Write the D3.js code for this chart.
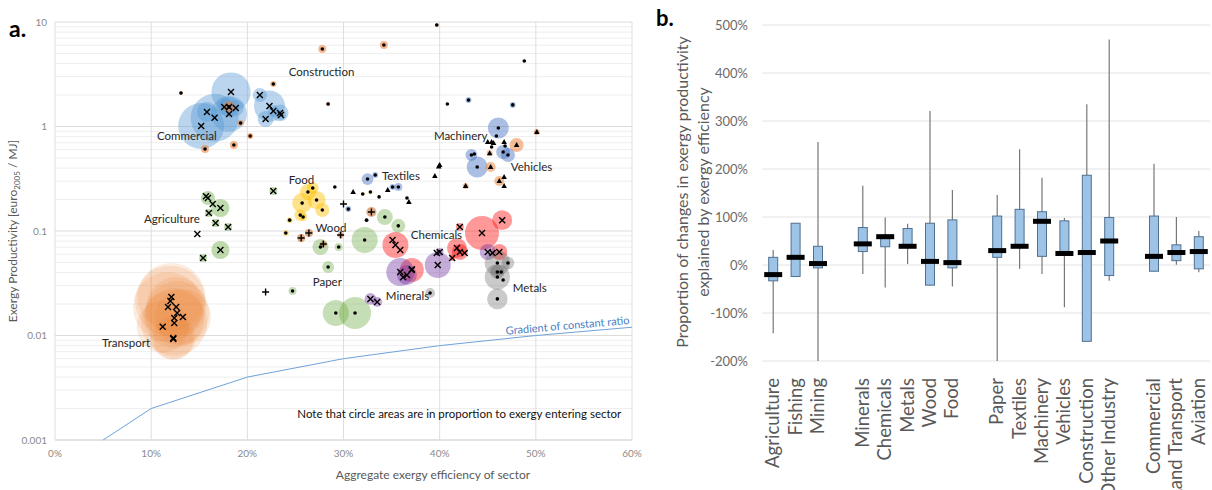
<!DOCTYPE html>
<html>
<head>
<meta charset="utf-8">
<style>
  body { margin: 0; background: #fff; }
  text { font-family: Lato, "Open Sans", sans-serif; }
</style>
</head>
<body>
<svg id="chart" width="1212" height="490"></svg>

<script src="https://cdn.jsdelivr.net/npm/d3@7"></script>
<script>
// ---------- panel a: [aggregate exergy efficiency %, exergy productivity, exergy entering sector]
const transport = [
  [12.1, 0.0234, 722], [12.0, 0.0214, 780], [11.75, 0.0187, 765], [12.6, 0.0187, 562],
  [12.7, 0.0164, 640], [13.3, 0.0150, 490], [12.4, 0.0147, 562], [12.4, 0.0132, 680],
  [11.2, 0.0121, 422], [12.3, 0.00946, 302], [12.3, 0.00926, 250]
];
const commercial = [
  [15.2, 1.01, 330], [16.6, 1.21, 360], [18.3, 2.14, 240], [18.1, 1.32, 200], [15.8, 1.38, 62],
  [17.6, 1.54, 40], [18.8, 1.50, 40], [18.1, 1.54, 62], [21.3, 2.00, 31], [22.3, 1.57, 150],
  [22.7, 1.41, 22], [21.9, 1.18, 40], [23.4, 1.35, 45], [23.5, 1.29, 16]
];
const construction = [
  [13.1, 2.09, 2.5], [22.7, 2.55, 5.6], [19.3, 1.08, 5.6], [20.3, 0.811, 5.6], [15.6, 0.609, 10],
  [18.6, 0.665, 10], [18.1, 1.54, 22], [27.8, 5.51, 10], [34.2, 6.02, 10], [39.7, 9.36, 2.5],
  [28.4, 1.64, 2.5]
];
const agriculture = [
  [15.9, 0.207, 31], [17.2, 0.166, 51], [16.0, 0.149, 10], [16.7, 0.119, 10], [18.0, 0.109, 10],
  [14.8, 0.0936, 0], [17.2, 0.0658, 51], [15.4, 0.0551, 10], [22.7, 0.241, 10],
  [15.7, 0.215, 0], [16.4, 0.181, 0]
];
const food = [
  [25.7, 0.185, 62], [27.2, 0.198, 51], [26.3, 0.236, 40], [27.8, 0.159, 31], [25.5, 0.142, 22],
  [24.4, 0.127, 5.6], [24.0, 0.0957, 5.6], [25.8, 0.136, 10], [26.8, 0.258, 22],
  [32.0, 0.226, 2.5], [32.8, 0.236, 2.5]
];
const wood = [
  [25.6, 0.0857, 10], [26.4, 0.0957, 10], [29.7, 0.0916, 5.6], [27.9, 0.0751, 5.6], [32.9, 0.152, 16]
];
const paper = [
  [27.6, 0.0703, 40], [29.5, 0.0703, 10], [28.4, 0.0452, 22], [32.2, 0.0820, 106], [34.3, 0.136, 40],
  [35.7, 0.112, 31], [29.2, 0.0164, 106], [31.2, 0.0164, 160], [24.7, 0.0267, 10]
];
const textiles = [
  [32.5, 0.314, 22], [33.3, 0.343, 5.6], [35.1, 0.264, 5.6], [35.7, 0.264, 10], [30.5, 0.162, 5.6],
  [32.4, 0.127, 2.5]
];
const machinery = [
  [46.1, 0.967, 69], [45.9, 0.811, 0], [46.6, 0.570, 31], [47.1, 0.534, 31], [43.3, 0.534, 22],
  [43.9, 0.410, 69], [43.6, 0.545, 0], [45.4, 0.637, 0], [46.8, 0.650, 0], [43.0, 1.79, 5.6],
  [47.6, 1.61, 5.6]
];
const vehicles = [
  [48.0, 0.665, 31], [50.1, 0.886, 5.6], [45.3, 0.410, 16], [46.2, 0.301, 16], [42.7, 0.270, 5.6],
  [45.2, 0.555, 5.6], [45.0, 0.711, 0], [45.4, 0.711, 0], [45.6, 0.695, 0], [46.7, 0.711, 0],
  [46.7, 0.329, 0], [46.7, 0.270, 0]
];
const chemicals = [
  [44.4, 0.0957, 181], [46.5, 0.127, 62], [42.1, 0.109, 10], [35.4, 0.0735, 106], [35.1, 0.0820, 0],
  [35.9, 0.0658, 0], [41.8, 0.0688, 62], [42.1, 0.0630, 40], [41.3, 0.0551, 5.6], [37.1, 0.0423, 90],
  [46.2, 0.0630, 40], [42.6, 0.0616, 0]
];
const minerals = [
  [35.9, 0.0405, 122], [36.6, 0.0379, 62], [39.8, 0.0473, 106], [40.0, 0.0630, 10], [39.7, 0.0616, 0],
  [32.8, 0.0224, 22], [33.5, 0.0209, 16], [45.0, 0.0630, 40], [45.5, 0.0616, 0], [36.2, 0.0360, 0],
  [37.1, 0.0430, 0]
];
const metals = [
  [46.0, 0.0494, 100], [47.1, 0.0494, 25], [46.0, 0.0363, 100], [46.0, 0.0405, 31], [46.0, 0.0224, 66],
  [39.0, 0.0255, 16], [46.4, 0.0405, 0], [46.6, 0.0340, 0]
];
const otherDots = [[48.8, 4.24], [40.8, 1.64], [29.1, 0.264], [33.7, 0.212], [36.6, 0.207]];
const otherTriangles = [[31.0, 0.236], [36.8, 0.189], [34.6, 0.247], [40.0, 0.428], [39.5, 0.336], [39.9, 0.415]];
const otherPlus = [[21.9, 0.0261], [30.0, 0.181]];

const effTicks = [0, 10, 20, 30, 40, 50, 60];
const prodTicks = [0.001, 0.01, 0.1, 1, 10];
const prodTickLabels = ['0.001', '0.01', '0.1', '1', '10'];

// constant ratio line
const gradEff = [5, 10, 20, 30, 40, 50, 60];
const gradProd = [0.001, 0.002, 0.004, 0.006, 0.008, 0.010, 0.012];

const sectorLabels = [
  ['Construction', 24.3, 3.04], ['Commercial', 10.6, 0.743], ['Food', 24.3, 0.282],
  ['Agriculture', 9.25, 0.119], ['Wood', 27.1, 0.0978], ['Textiles', 34.0, 0.307],
  ['Machinery', 39.4, 0.743], ['Vehicles', 47.4, 0.375], ['Chemicals', 37.0, 0.0838],
  ['Paper', 26.8, 0.0298], ['Minerals', 34.4, 0.0219], ['Metals', 47.6, 0.0261],
  ['Transport', 4.9, 0.00776]
];

// ---------- panel b
const boxGroups = [
  ['Agriculture', 'Fishing', 'Mining'],
  ['Minerals', 'Chemicals', 'Metals', 'Wood', 'Food'],
  ['Paper', 'Textiles', 'Machinery', 'Vehicles', 'Construction', 'Other Industry'],
  ['Commercial', 'Land Transport', 'Aviation']
];
const whiskerLow  = [-142, -24, -200, -19, -47, 2, -43, -45, -200, -8, -19, -88, -159, -33, -13, 0.5, -15];
const boxLow      = [-33, -24, -6, 28, 38, 37, -42, -6, 16, 37, 18, 23, -159, -22, -13, 9, -8];
const boxMedian   = [-20, 16, 3, 44, 59, 39, 7.5, 5, 30, 39, 91, 24, 26, 50, 18, 26, 28];
const boxHigh     = [16, 87, 39, 78, 62, 76, 87, 94, 102, 116, 111, 92, 187, 99, 102, 42, 59];
const whiskerHigh = [31, 87, 256, 165, 99, 86, 321, 156, 146, 241, 182, 98, 335, 470, 211, 100, 71];
const shareTicks = [-200, -100, 0, 100, 200, 300, 400, 500];

const svg = d3.select('#chart');

// ================= panel a
const pa = { left: 55, right: 632, top: 22, bottom: 440 };
const x = d3.scaleLinear().domain([0, 60]).range([pa.left, pa.right]);
const y = d3.scaleLog().domain([0.001, 10]).range([pa.bottom, pa.top]);
const r = d3.scaleSqrt().domain([0, 1000]).range([0, 40]);

const ga = svg.append('g');

// minor grid
const minor = [];
[0.001, 0.01, 0.1, 1].forEach(d => { for (let k = 2; k < 10; k++) minor.push(d * k); });
ga.selectAll('.minor').data(minor).join('line')
  .attr('x1', pa.left).attr('x2', pa.right)
  .attr('y1', d => y(d)).attr('y2', d => y(d))
  .attr('stroke', '#eeeeee');
ga.selectAll('.major').data(prodTicks).join('line')
  .attr('x1', pa.left).attr('x2', pa.right)
  .attr('y1', d => y(d)).attr('y2', d => y(d))
  .attr('stroke', d => d === 0.001 ? '#c8c8c8' : '#dcdcdc');
ga.selectAll('.vgrid').data(effTicks).join('line')
  .attr('x1', d => x(d)).attr('x2', d => x(d))
  .attr('y1', pa.top).attr('y2', pa.bottom)
  .attr('stroke', '#dedede');

// tick labels
ga.selectAll('.ytl').data(prodTicks).join('text')
  .attr('x', pa.left - 8).attr('y', d => y(d)).attr('dy', '0.35em')
  .attr('text-anchor', 'end').attr('font-size', 10).attr('fill', '#8a8a8a')
  .text((d, i) => prodTickLabels[i]);
ga.selectAll('.xtl').data(effTicks).join('text')
  .attr('x', d => x(d)).attr('y', pa.bottom + 17)
  .attr('text-anchor', 'middle').attr('font-size', 10).attr('fill', '#8a8a8a')
  .text(d => d + '%');

// axis titles
ga.append('text').attr('x', 433).attr('y', 479).attr('text-anchor', 'middle')
  .attr('font-size', 12).attr('fill', '#595959').text('Aggregate exergy efficiency of sector');
const yt = ga.append('text').attr('transform', 'translate(17,231) rotate(-90)')
  .attr('text-anchor', 'middle').attr('font-size', 12).attr('fill', '#595959');
yt.append('tspan').text('Exergy Productivity [euro');
yt.append('tspan').attr('font-size', 8).attr('dy', 3).text('2005');
yt.append('tspan').attr('dy', -3).text(' / MJ]');

// gradient of constant ratio
ga.append('path')
  .attr('d', d3.line().x(d => x(d[0])).y(d => y(d[1]))(d3.zip(gradEff, gradProd)))
  .attr('fill', 'none').attr('stroke', '#6fa3d8').attr('stroke-width', 1);
{
  const x0 = x(40), x1 = x(50), y0 = y(0.008), y1 = y(0.010);
  const tx = x(46.9), ty = y0 + (y1 - y0) * (tx - x0) / (x1 - x0) - 4;
  const ang = Math.atan2(y(0.012) - y(0.010), x(60) - x(50)) * 180 / Math.PI;
  ga.append('text').attr('transform', `translate(${tx},${ty}) rotate(${ang})`)
    .attr('font-size', 11).attr('fill', '#4a7ec4').text('Gradient of constant ratio');
}

// bubbles
const sectors = [
  { data: transport, fill: '#ed7d31', op: 0.15, mark: 'x' },
  { data: paper, fill: '#70ad47', op: 0.4, mark: 'o' },
  { data: agriculture, fill: '#70ad47', op: 0.45, mark: 'x' },
  { data: commercial, fill: '#5b9bd5', op: 0.42, mark: 'x' },
  { data: construction, fill: '#ed7d31', op: 0.55, mark: 'o' },
  { data: food, fill: '#ffc000', op: 0.45, mark: 'o' },
  { data: wood, fill: '#c55a11', op: 0.5, mark: '+' },
  { data: textiles, fill: '#4472c4', op: 0.45, mark: 'o' },
  { data: machinery, fill: '#4472c4', op: 0.45, mark: 'o' },
  { data: vehicles, fill: '#ed7d31', op: 0.5, mark: '^' },
  { data: chemicals, fill: '#ff0000', op: 0.4, mark: 'x' },
  { data: minerals, fill: '#7030a0', op: 0.4, mark: 'x' },
  { data: metals, fill: '#595959', op: 0.32, mark: 'o' },
  { data: otherDots, mark: 'o' },
  { data: otherTriangles, mark: '^' },
  { data: otherPlus, mark: '+' }
];

const markPath = {
  x: 'M-3,-3L3,3M3,-3L-3,3',
  '+': 'M-3.5,0L3.5,0M0,-3.5L0,3.5',
  '^': 'M0,-3L2.8,2L-2.8,2Z'
};

sectors.filter(s => s.fill).forEach(s => {
  ga.append('g').selectAll('circle').data(s.data.filter(d => d[2] > 0)).join('circle')
    .attr('cx', d => x(d[0])).attr('cy', d => y(d[1])).attr('r', d => r(d[2]))
    .attr('fill', s.fill).attr('fill-opacity', s.op);
});

sectors.forEach(s => {
  const g = ga.append('g');
  if (s.mark === 'o') {
    g.selectAll('circle').data(s.data).join('circle')
      .attr('cx', d => x(d[0])).attr('cy', d => y(d[1])).attr('r', 1.8).attr('fill', '#000');
  } else {
    g.selectAll('path').data(s.data).join('path')
      .attr('transform', d => `translate(${x(d[0])},${y(d[1])})`)
      .attr('d', markPath[s.mark])
      .attr('fill', '#000').attr('stroke', '#000')
      .attr('stroke-width', s.mark === '^' ? 0 : 1.4);
  }
});

// sector labels
ga.selectAll('.lab').data(sectorLabels).join('text')
  .attr('x', d => x(d[1])).attr('y', d => y(d[2]))
  .attr('font-size', 11.5).attr('fill', '#262626').text(d => d[0]);
ga.append('text').attr('x', x(25.2)).attr('y', y(0.00163))
  .attr('font-size', 11.5).attr('fill', '#111')
  .text('Note that circle areas are in proportion to exergy entering sector');

ga.append('text').attr('x', 9).attr('y', 37).attr('font-size', 23).attr('font-weight', 700)
  .attr('fill', '#000').text('a.');

// ================= panel b
const cats = boxGroups.flat();
const slots = [];
boxGroups.forEach((grp, i) => { if (i) slots.push('gap' + i); slots.push(...grp); });

const xb = d3.scaleBand().domain(slots).range([762, 1210]);
const yb = d3.scaleLinear().domain([-200, 500]).range([361, 25]);
const gb = svg.append('g');

gb.selectAll('.grid').data(shareTicks).join('line')
  .attr('x1', 762).attr('x2', 1210)
  .attr('y1', d => yb(d)).attr('y2', d => yb(d))
  .attr('stroke', '#e3e3e3').attr('stroke-width', 1);
gb.selectAll('.ytl').data(shareTicks).join('text')
  .attr('x', 748).attr('y', d => yb(d)).attr('dy', '0.35em')
  .attr('text-anchor', 'end').attr('font-size', 13).attr('fill', '#6b6b6b')
  .text(d => d + '%');

const cx = c => xb(c) + xb.bandwidth() / 2;

const box = gb.selectAll('.box').data(cats).join('g');
box.append('line')
  .attr('x1', cx).attr('x2', cx)
  .attr('y1', (c, i) => yb(whiskerHigh[i])).attr('y2', (c, i) => yb(whiskerLow[i]))
  .attr('stroke', '#777').attr('stroke-width', 1.2);
box.append('rect')
  .attr('x', c => cx(c) - 4.5).attr('width', 9)
  .attr('y', (c, i) => yb(boxHigh[i]))
  .attr('height', (c, i) => Math.max(1, yb(boxLow[i]) - yb(boxHigh[i])))
  .attr('fill', '#9dc3e6').attr('stroke', '#50708f').attr('stroke-width', 1);
box.append('rect')
  .attr('x', c => cx(c) - 9).attr('width', 18)
  .attr('y', (c, i) => yb(boxMedian[i]) - 2.5).attr('height', 5)
  .attr('fill', '#000');

gb.selectAll('.cat').data(cats).join('text')
  .attr('transform', c => `translate(${cx(c) + 6},378) rotate(-90)`)
  .attr('text-anchor', 'end').attr('font-size', 18.5).attr('fill', '#595959')
  .text(c => c);

gb.append('text').attr('transform', 'translate(688,192) rotate(-90)')
  .attr('text-anchor', 'middle').attr('font-size', 16).attr('fill', '#595959')
  .text('Proportion of changes in exergy productivity');
gb.append('text').attr('transform', 'translate(709,192) rotate(-90)')
  .attr('text-anchor', 'middle').attr('font-size', 16).attr('fill', '#595959')
  .text('explained by exergy efficiency');

gb.append('text').attr('x', 656).attr('y', 26).attr('font-size', 22).attr('font-weight', 700)
  .attr('fill', '#000').text('b.');
</script>
</body>
</html>
